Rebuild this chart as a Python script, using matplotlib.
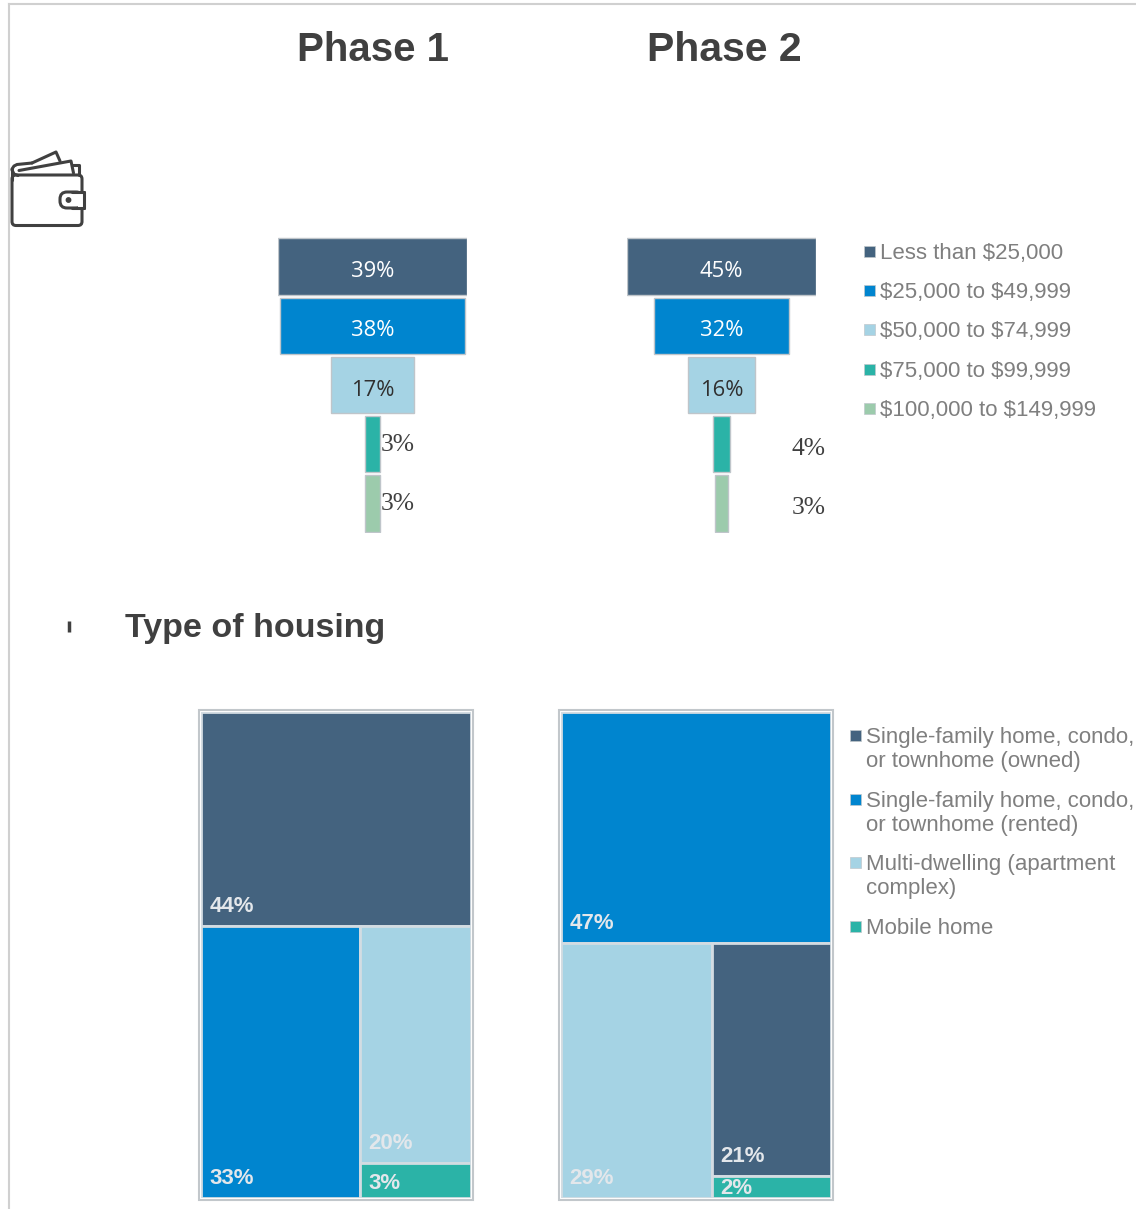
import matplotlib
matplotlib.use("Agg")
import matplotlib.pyplot as plt
from matplotlib.patches import Rectangle, FancyBboxPatch, Circle

W, H = 1136, 1209

income_labels = [r"Less than \$25,000", r"\$25,000 to \$49,999", r"\$50,000 to \$74,999",
                 r"\$75,000 to \$99,999", r"\$100,000 to \$149,999"]
income_phase1 = [39, 38, 17, 3, 3]
income_phase2 = [45, 32, 16, 4, 3]

housing_labels = ["Single-family home, condo,\nor townhome (owned)",
                  "Single-family home, condo,\nor townhome (rented)",
                  "Multi-dwelling (apartment\ncomplex)",
                  "Mobile home"]
# owned, rented, multi, mobile
housing_phase1 = [44, 33, 20, 3]
housing_phase2 = [21, 47, 29, 2]

colors = ["#44637F", "#0085CF", "#A5D3E4", "#2BB3A7", "#9CCBAC"]
dark = "#404040"
grey = "#7F7F7F"
sans = "Liberation Sans"


def axes_px(fig, left, top, right, bottom):
    return fig.add_axes([left / W, 1 - bottom / H, (right - left) / W, (bottom - top) / H])


def draw_funnel(ax, values, outside_xy):
    half = max(values) / 2
    y = list(range(len(values)))
    lefts = [-v / 2 for v in values]
    ax.barh(y, values, left=lefts, height=0.955, color=colors, edgecolor="#BFC5CA", linewidth=1)
    ax.set_xlim(-half, half)
    ax.set_ylim(len(values) - 0.5, -0.5)
    ax.axis("off")
    for i, v in enumerate(values):
        if v >= 10:
            col = "white" if i < 2 else "#303030"
            ax.annotate(f"{v}%", (0, i), xytext=(0, -5), textcoords="offset pixels",
                        ha="center", va="center", color=col,
                        fontsize=15.8, family="Open Sans")
        else:
            ax.annotate(f"{v}%", (v / 2, i), xytext=outside_xy[i - 3], textcoords="offset pixels",
                        ha="left", va="center", color=dark, fontsize=18.4,
                        family="Liberation Serif", annotation_clip=False)


def draw_treemap(ax, values):
    # biggest category on top, the rest split into a left column and a stacked right column
    order = sorted(range(len(values)), key=lambda i: -values[i])
    total = sum(values)
    top, left, mid, low = [values[i] for i in order]
    h_top = top / total
    rest = total - top
    w_left = left / rest
    h_mid = mid / (mid + low)
    cells = [
        (order[0], 0, 1 - h_top, 1, h_top),
        (order[1], 0, 0, w_left, 1 - h_top),
        (order[2], w_left, (1 - h_top) * (1 - h_mid), 1 - w_left, (1 - h_top) * h_mid),
        (order[3], w_left, 0, 1 - w_left, (1 - h_top) * (1 - h_mid)),
    ]
    for idx, x, y, w, h in cells:
        ax.add_patch(Rectangle((x, y), w, h, facecolor=colors[idx], edgecolor="#D3DCE2", linewidth=2))
        if h > 0.1:
            pad = 9
        elif h > 0.05:
            pad = 4
        else:
            pad = -1
        ax.annotate(f"{values[idx]}%", (x, y), xytext=(8.5, pad),
                    textcoords="offset pixels", ha="left", va="bottom",
                    color="#E3E7EB", fontsize=16, fontweight="bold", family=sans)
    ax.set_xlim(0, 1)
    ax.set_ylim(0, 1)
    ax.axis("off")


def draw_wallet(ax):
    kw = dict(color=dark, linewidth=2.2, solid_capstyle="round", solid_joinstyle="round")
    ax.add_patch(FancyBboxPatch((12, 175), 70, 50.5, boxstyle="round,pad=0,rounding_size=4",
                                fill=False, edgecolor=dark, linewidth=2.2))
    # flap and notes
    ax.plot([12, 12], [169, 180], **kw)
    ax.plot([12, 14, 17, 32], [169, 166, 164.5, 163], **kw)
    ax.plot([12, 14, 18], [170, 174, 175.5], **kw)
    ax.plot([19, 71, 73.5], [170.5, 161, 173], **kw)
    ax.plot([32, 56, 60], [163, 152, 161], **kw)
    ax.plot([73, 79, 79], [165, 165, 175], **kw)
    # clasp
    ax.add_patch(FancyBboxPatch((60, 192), 23, 16, boxstyle="round,pad=0,rounding_size=7",
                                facecolor="white", edgecolor=dark, linewidth=2.2, zorder=4))
    ax.add_patch(Rectangle((78, 193.5), 7, 13, facecolor="white", edgecolor="none", zorder=5))
    ax.plot([83.5, 83.5], [192, 208], zorder=6, **kw)
    ax.plot([72, 83.5], [192, 192], zorder=6, **kw)
    ax.plot([72, 83.5], [208, 208], zorder=6, **kw)
    ax.add_patch(Circle((68.5, 200), 2.2, color=dark, zorder=6))


def draw_legend(ax, labels, x, ys, size, box):
    for col, lab, y in zip(colors, labels, ys):
        ax.add_patch(Rectangle((x, y - box / 2), box, box, facecolor=col, edgecolor="#C0C8CC", linewidth=0.5))
        ax.text(x + box + 5, y - 8.3, lab, ha="left", va="top", color=grey, fontsize=size,
                family=sans, linespacing=1.22)


fig = plt.figure(figsize=(W / 100, H / 100), dpi=100, facecolor="white")

page = axes_px(fig, 0, 0, W, H)
page.set_xlim(0, W)
page.set_ylim(H, 0)
page.axis("off")
page.plot([9, 9], [4, H], color="#D0D0D0", linewidth=1.5)
page.plot([9, W], [4, 4], color="#D0D0D0", linewidth=1.5)

page.text(373, 50, "Phase 1", ha="center", va="center", fontsize=29, fontweight="bold",
          color=dark, family=sans)
page.text(724, 50, "Phase 2", ha="center", va="center", fontsize=29.5, fontweight="bold",
          color=dark, family=sans)
page.text(125, 629, "Type of housing", ha="left", va="center", fontsize=24.5, fontweight="bold",
          color=dark, family=sans)
page.plot([68.5, 68.5], [621, 632], color=dark, linewidth=2.5, solid_capstyle="butt")
draw_wallet(page)

draw_legend(page, income_labels, 864, [251, 290, 329, 369, 408], 16, 11)
draw_legend(page, housing_labels, 850, [735, 799, 862, 926], 16, 11)

draw_funnel(axes_px(fig, 278, 237, 467, 533), income_phase1, [(1, -1), (1, -1)])
draw_funnel(axes_px(fig, 627, 237, 816, 533), income_phase2, [(62, -5), (64, -5)])

for left, right, vals in [(199, 473, housing_phase1), (559, 833, housing_phase2)]:
    page.add_patch(Rectangle((left, 710), right - left, 490, facecolor="white",
                             edgecolor="#C2C7CB", linewidth=1.5))
    draw_treemap(axes_px(fig, left + 2, 712, right - 2, 1198), vals)

fig.savefig("out.png", dpi=100)
